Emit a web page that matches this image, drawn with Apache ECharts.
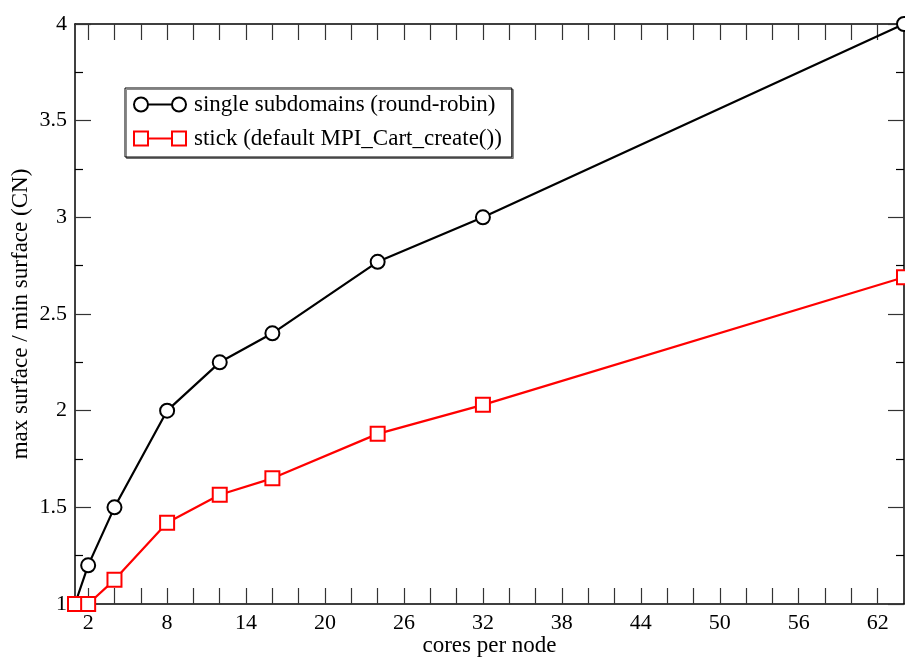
<!DOCTYPE html>
<html>
<head>
<meta charset="utf-8">
<script src="https://cdn.jsdelivr.net/npm/echarts@6/dist/echarts.min.js"></script>
<style>
html,body{margin:0;padding:0;background:#fff;}
#chart{width:905px;height:657px;}
</style>
</head>
<body>
<div id="chart"></div>
<script>
// ---- data ----
const coresPerNode = [1, 2, 4, 8, 12, 16, 24, 32, 64];
const roundRobin = [1.0, 1.2, 1.5, 2.0, 2.25, 2.4, 2.77, 3.0, 4.0];
const stick = [1.0, 1.0, 1.125, 1.42, 1.565, 1.65, 1.88, 2.03, 2.69];
const seriesNames = ['single subdomains (round-robin)', 'stick (default MPI_Cart_create())'];
const xLabelValues = [2, 8, 14, 20, 26, 32, 38, 44, 50, 56, 62];
const xTickValues = [2, 4, 6, 8, 10, 12, 14, 16, 18, 20, 22, 24, 26, 28, 30, 32, 34, 36, 38, 40, 42, 44, 46, 48, 50, 52, 54, 56, 58, 60, 62];
const xTitle = 'cores per node';
const yTitle = 'max surface / min surface (CN)';

const FONT = '"Liberation Serif", "DejaVu Serif", serif';
const chart = echarts.init(document.getElementById('chart'), null, {renderer: 'canvas'});

function pairs(xs, ys) { return xs.map((x, i) => [x, ys[i]]); }

const circleIcon = 'path://M0,7 A7,7 0 1,0 14,7 A7,7 0 1,0 0,7 Z M14,7 L38,7 M38,7 A7,7 0 1,0 52,7 A7,7 0 1,0 38,7 Z';
const squareIcon = 'path://M0,0 L14,0 L14,14 L0,14 Z M14,7 L38,7 M38,0 L52,0 L52,14 L38,14 Z';

const axisLineStyle = {color: '#000', width: 1.5};
const tickStyle = {color: '#333', width: 1.2};

const option = {
  backgroundColor: '#fff',
  animation: false,
  grid: {left: 75, right: 1, top: 24, bottom: 53, containLabel: false, outerBoundsMode: 'none'},
  legend: {
    orient: 'vertical',
    left: 125, top: 88,
    padding: [5, 10, 7, 8],
    itemGap: 11,
    itemWidth: 52, itemHeight: 14,
    borderColor: '#000', borderWidth: 1,
    backgroundColor: '#fff',
    shadowColor: 'rgba(0,0,0,0.45)', shadowBlur: 0, shadowOffsetX: 1.5, shadowOffsetY: 1.5,
    textStyle: {fontFamily: FONT, fontSize: 23, color: '#000', padding: [0, 0, 0, 3]},
    selectedMode: false,
    data: [
      {name: seriesNames[0], icon: circleIcon, itemStyle: {color: '#fff', borderColor: '#000', borderWidth: 2}},
      {name: seriesNames[1], icon: squareIcon, itemStyle: {color: '#fff', borderColor: '#ff0000', borderWidth: 2}}
    ]
  },
  xAxis: [
    {
      type: 'value', position: 'bottom', min: 1, max: 64,
      name: xTitle, nameLocation: 'middle', nameGap: 30, nameMoveOverlap: false,
      nameTextStyle: {fontFamily: FONT, fontSize: 23, color: '#000'},
      axisLine: {show: true, lineStyle: axisLineStyle},
      axisTick: {show: true, inside: true, length: 16, customValues: xTickValues, lineStyle: tickStyle},
      axisLabel: {show: true, customValues: xLabelValues, margin: 8, fontFamily: FONT, fontSize: 22, color: '#000'},
      splitLine: {show: false}
    },
    {
      type: 'value', position: 'top', min: 1, max: 64,
      axisLine: {show: true, lineStyle: axisLineStyle},
      axisTick: {show: true, inside: true, length: 16, customValues: xTickValues, lineStyle: tickStyle},
      axisLabel: {show: false},
      splitLine: {show: false}
    }
  ],
  yAxis: [
    {
      type: 'value', position: 'left', min: 1, max: 4, interval: 0.5,
      name: yTitle, nameLocation: 'middle', nameGap: 43, nameRotate: 90, nameMoveOverlap: false,
      nameTextStyle: {fontFamily: FONT, fontSize: 23, color: '#000'},
      axisLine: {show: true, lineStyle: axisLineStyle},
      axisTick: {show: true, inside: true, length: 16, lineStyle: tickStyle},
      minorTick: {show: true, splitNumber: 2, length: 8, lineStyle: {color: '#000', width: 1.2}},
      axisLabel: {show: true, margin: 8, fontFamily: FONT, fontSize: 22, color: '#000'},
      splitLine: {show: false}
    },
    {
      type: 'value', position: 'right', min: 1, max: 4, interval: 0.5,
      axisLine: {show: true, lineStyle: axisLineStyle},
      axisTick: {show: true, inside: true, length: 16, lineStyle: tickStyle},
      minorTick: {show: true, splitNumber: 2, length: 8, lineStyle: {color: '#000', width: 1.2}},
      axisLabel: {show: false},
      splitLine: {show: false}
    }
  ],
  series: [
    {
      name: seriesNames[0], type: 'line', xAxisIndex: 0, yAxisIndex: 0,
      data: pairs(coresPerNode, roundRobin),
      symbol: 'circle', symbolSize: 14, clip: false,
      itemStyle: {color: '#fff', borderColor: '#000', borderWidth: 2},
      lineStyle: {color: '#000', width: 2.2},
      z: 3
    },
    {
      name: seriesNames[1], type: 'line', xAxisIndex: 0, yAxisIndex: 0,
      data: pairs(coresPerNode, stick),
      symbol: 'rect', symbolSize: 14, clip: false,
      itemStyle: {color: '#fff', borderColor: '#ff0000', borderWidth: 2},
      lineStyle: {color: '#ff0000', width: 2.2},
      z: 4
    }
  ]
};
chart.setOption(option);
</script>
</body>
</html>
